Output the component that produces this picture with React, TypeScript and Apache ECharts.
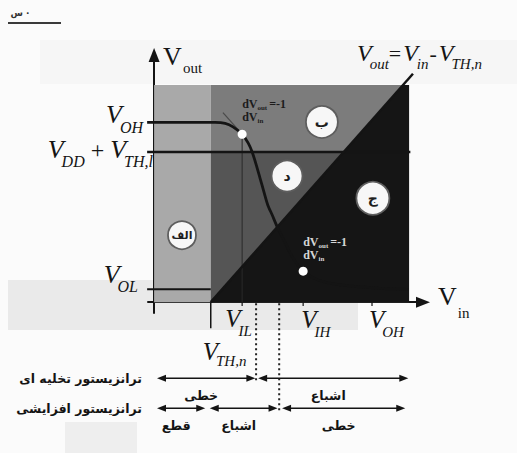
import React, { useEffect, useRef } from 'react';
import * as echarts from 'echarts';

// Voltage levels in schematic units (x = V_in, y = V_out)
const V_TH_N = 1.3;
const V_IL = 2.02;
const V_IH = 3.42;
const V_OH_IN = 5.0;
const V_OH = 3.65;
const V_DD_TH = 3.05;
const V_OL = 0.26;
const BOX_RIGHT = 5.85;
const BOX_TOP = 4.41;
const DIAG_END = 4.64;

// Transfer characteristic V_out(V_in)
const vtcIn = [-0.16, 1.4, 1.63, 1.81, 2.02, 2.16, 2.25, 2.34, 2.43, 2.52, 2.61, 2.71, 2.82, 3.0, 3.19, 3.42, 3.76, 4.27, 5.18, 5.83];
const vtcOut = [3.65, 3.65, 3.63, 3.56, 3.41, 3.23, 3.05, 2.8, 2.52, 2.24, 1.97, 1.77, 1.54, 1.22, 0.89, 0.63, 0.45, 0.35, 0.28, 0.26];

// Unity-gain points (dVout/dVin = -1)
const unityIn = [V_IL, V_IH];
const unityOut = [3.41, 0.63];

// Region markers
const regionNames = ['الف', 'ب', 'د', 'ج'];
const regionX = [0.64, 3.85, 3.05, 5.02];
const regionY = [1.36, 3.66, 2.56, 2.11];

// Operating modes of the two transistors along V_in (arrow tip to arrow tip)
const depletionLabel = 'ترانزیستور تخلیه ای';
const depletionFrom = [0.07, 2.39];
const depletionTo = [2.32, 5.83];
const depletionModes = ['خطی', 'اشباع'];
const enhancementLabel = 'ترانزیستور افزایشی';
const enhancementFrom = [0.07, 1.28, 2.94];
const enhancementTo = [1.17, 2.83, 5.76];
const enhancementModes = ['قطع', 'اشباع', 'خطی'];
const ROW_DEP = -1.545;
const ROW_ENH = -2.155;
const BOUNDARY_DEP = 2.34;
const BOUNDARY_ENH = 2.87;

const SERIF = 'Liberation Serif, serif';
const ARABIC = 'DejaVu Sans, sans-serif';
const INK = '#141414';
const HEAD = 0.1; // half an arrowhead, in V_in units

type Pt = number[];

const canvasCtx = document.createElement('canvas').getContext('2d') as CanvasRenderingContext2D;
function textWidth(t: string, font: string) {
  canvasCtx.font = font;
  return canvasCtx.measureText(t).width;
}

type Piece = { t: string; size: number; italic?: boolean; bold?: boolean; sub?: number; dx?: number };

function pieceFont(p: Piece) {
  return `${p.italic ? 'italic' : 'normal'} ${p.bold ? 'bold' : 'normal'} ${p.size}px "Liberation Serif"`;
}

function formulaWidth(pieces: Piece[]) {
  return pieces.reduce((w, p) => w + (p.dx ?? 0) + textWidth(p.t, pieceFont(p)), 0);
}

function formula(left: number, base: number, pieces: Piece[], color = INK) {
  let x = left;
  const els: any[] = [];
  for (const p of pieces) {
    x += p.dx ?? 0;
    const b = base + (p.sub ?? 0);
    els.push({
      type: 'text',
      x,
      y: b - 0.34 * p.size,
      z: 100,
      silent: true,
      style: {
        text: p.t,
        fontSize: p.size,
        fontFamily: SERIF,
        fontStyle: p.italic ? 'italic' : 'normal',
        fontWeight: p.bold ? 'bold' : 'normal',
        fill: color,
        align: 'left',
        verticalAlign: 'middle',
      },
    });
    x += textWidth(p.t, pieceFont(p));
  }
  return els;
}

function formulaRight(right: number, base: number, pieces: Piece[], color = INK) {
  return formula(right - formulaWidth(pieces), base, pieces, color);
}

const vSub = (sub: string, size = 26, subSize = 16, drop = 9): Piece[] => [
  { t: 'V', size, italic: true },
  { t: sub, size: subSize, italic: true, sub: drop, dx: -2 },
];

function seg(data: Pt[], lineStyle: any, z = 3, smooth: number | boolean = false) {
  return {
    type: 'line',
    data,
    symbol: 'none',
    clip: false,
    silent: true,
    smooth,
    z,
    lineStyle,
  };
}

// double-headed arrows for one transistor's mode bar
function arrowRow(from: number[], to: number[], row: number) {
  return from.map((a, i) => ({
    type: 'line',
    clip: false,
    silent: true,
    z: 4,
    symbol: 'triangle',
    symbolSize: [7, 9],
    showSymbol: true,
    showAllSymbol: true,
    lineStyle: { color: INK, width: 1.5 },
    itemStyle: { color: INK, opacity: 1 },
    data: [
      { value: [a + HEAD, row], symbolRotate: 90 },
      { value: [to[i] - HEAD, row], symbolRotate: -90 },
    ],
  }));
}

function buildOption() {
  const polygons: Pt[][] = [
    [[0, 0], [V_TH_N, 0], [V_TH_N, BOX_TOP], [0, BOX_TOP]],
    [[V_TH_N, V_DD_TH], [BOX_RIGHT, V_DD_TH], [BOX_RIGHT, BOX_TOP], [V_TH_N, BOX_TOP]],
    [[V_TH_N, 0], [BOX_RIGHT, 0], [BOX_RIGHT, V_DD_TH], [V_TH_N, V_DD_TH]],
    [[V_TH_N, 0], [V_TH_N + BOX_TOP, BOX_TOP], [BOX_RIGHT, BOX_TOP], [BOX_RIGHT, 0]],
  ];
  const fills = ['#a9a9a9', '#7c7c7c', '#555555', '#151515'];
  const circleSizes = [28, 32, 31, 33];
  const circleFonts = [11, 14, 14, 14];

  return {
    animation: false,
    backgroundColor: '#fbfbfb',
    grid: { left: 148, top: 55, width: 275, height: 258, containLabel: false, outerBoundsMode: 'none' },
    xAxis: {
      type: 'value',
      min: -0.14,
      max: 6.17,
      axisLine: {
        onZero: true,
        symbol: ['none', 'triangle'],
        symbolSize: [11, 14],
        lineStyle: { color: INK, width: 2 },
      },
      axisTick: { show: false },
      axisLabel: { show: false },
      splitLine: { show: false },
    },
    yAxis: {
      type: 'value',
      min: -0.22,
      max: 5.02,
      axisLine: {
        onZero: true,
        symbol: ['none', 'triangle'],
        symbolSize: [11, 14],
        lineStyle: { color: INK, width: 2 },
      },
      axisTick: { show: false },
      axisLabel: { show: false },
      splitLine: { show: false },
    },
    series: [
      {
        type: 'custom',
        silent: true,
        clip: false,
        z: 1,
        data: polygons.map((p, i) => [p[0][0], p[0][1], i]),
        encode: { x: 0, y: 1 },
        renderItem: (params: any, api: any) => {
          const poly = polygons[params.dataIndex];
          return {
            type: 'polygon',
            shape: { points: poly.map((p) => api.coord(p)) },
            style: { fill: fills[params.dataIndex] },
          };
        },
      },
      // V_IL guide and tangent at the first unity-gain point
      seg([[V_IL, unityOut[0]], [V_IL, 0]], { color: '#2a2a2a', width: 1 }, 2),
      seg([[1.58, 3.85], [2.12, 3.31]], { color: '#4a4a4a', width: 1.2 }, 2),
      // reference levels
      seg([[-0.16, V_DD_TH], [BOX_RIGHT + 0.03, V_DD_TH]], { color: INK, width: 2.6 }),
      seg([[-0.16, V_OL], [V_TH_N, V_OL]], { color: INK, width: 2 }),
      // V_out = V_in - V_TH,n
      seg([[V_TH_N, 0], [V_TH_N + DIAG_END, DIAG_END]], { color: INK, width: 2.5 }),
      // transfer curve
      seg(vtcIn.map((x, i) => [x, vtcOut[i]]), { color: INK, width: 2.8 }, 4, 0.25),
      // tick marks below the V_in axis
      seg([[V_TH_N, 0], [V_TH_N, -0.53]], { color: INK, width: 1.5 }),
      seg([[V_IL, 0], [V_IL, -0.08]], { color: INK, width: 1.2 }),
      seg([[V_IH, 0], [V_IH, -0.08]], { color: INK, width: 1.2 }),
      seg([[V_OH_IN, 0], [V_OH_IN, -0.08]], { color: INK, width: 1.2 }),
      // region boundaries carried down to the mode bars
      seg([[BOUNDARY_DEP, -0.02], [BOUNDARY_DEP, ROW_DEP - 0.04]], { color: '#222', width: 2, type: [2, 3] }),
      seg([[BOUNDARY_ENH, -0.02], [BOUNDARY_ENH, ROW_ENH - 0.04]], { color: '#222', width: 2, type: [2, 3] }),
      ...arrowRow(depletionFrom, depletionTo, ROW_DEP),
      ...arrowRow(enhancementFrom, enhancementTo, ROW_ENH),
      {
        type: 'scatter',
        silent: true,
        z: 6,
        symbol: 'circle',
        data: unityIn.map((x, i) => [x, unityOut[i]]),
        symbolSize: 9,
        itemStyle: { color: '#ffffff', opacity: 1 },
      },
      {
        type: 'scatter',
        silent: true,
        z: 6,
        symbol: 'circle',
        data: regionX.map((x, i) => ({
          value: [x, regionY[i]],
          name: regionNames[i],
          symbolSize: circleSizes[i],
          label: { fontSize: circleFonts[i] },
        })),
        itemStyle: { color: '#f7f7f7', borderColor: '#5e5e5e', borderWidth: 1.8, opacity: 1 },
        label: {
          show: true,
          position: 'inside',
          formatter: '{b}',
          color: '#1e1e1e',
          fontFamily: ARABIC,
          fontWeight: 'bold',
          fontSize: 14,
        },
      },
    ],
  };
}

function buildGraphics(px: (p: Pt) => number[]) {
  const els: any[] = [];
  // paper tone of the printed page
  els.push(
    { type: 'rect', z: -10, silent: true, shape: { x: 40, y: 40, width: 477, height: 44 }, style: { fill: '#f6f6f6' } },
    { type: 'rect', z: -10, silent: true, shape: { x: 8, y: 280, width: 350, height: 50 }, style: { fill: '#eaeaea' } },
    { type: 'rect', z: -10, silent: true, shape: { x: 65, y: 422, width: 72, height: 31 }, style: { fill: '#eeeeee' } },
    { type: 'line', z: 5, silent: true, shape: { x1: 8, y1: 23, x2: 61, y2: 23 }, style: { stroke: '#3a3a3a', lineWidth: 2 } },
    { type: 'text', z: 5, silent: true, x: 20, y: 13, style: { text: 'س ·', fontFamily: ARABIC, fontWeight: 'bold', fontSize: 9, fill: '#333', align: 'center', verticalAlign: 'middle' } }
  );

  const origin = px([0, 0]);
  const yTop = px([0, 5.02]);
  const xEnd = px([6.17, 0]);

  // axis titles
  els.push(...formula(yTop[0] + 9, yTop[1] + 10, [
    { t: 'V', size: 26 },
    { t: 'out', size: 15, sub: 8, dx: 1 },
  ]));
  els.push(...formula(xEnd[0] + 15, xEnd[1] + 3, [
    { t: 'V', size: 26 },
    { t: 'in', size: 15, sub: 13, dx: 1 },
  ]));

  // levels on the V_out axis
  const left = px([-0.14, 0])[0];
  els.push(...formulaRight(left - 5, px([0, V_OH])[1] + 1, vSub('OH')));
  els.push(...formulaRight(left + 5, px([0, V_DD_TH])[1] + 6, [
    ...vSub('DD'),
    { t: ' + ', size: 24 },
    ...vSub('TH,l'),
  ]));
  els.push(...formulaRight(left - 10, px([0, V_OL])[1] - 6, vSub('OL')));

  // levels on the V_in axis
  els.push(...formula(px([V_IL, 0])[0] - 17, origin[1] + 25, vSub('IL', 25, 15, 9)));
  els.push(...formula(px([V_IH, 0])[0] - 2, origin[1] + 26, vSub('IH', 25, 15, 9)));
  els.push(...formula(px([V_OH_IN, 0])[0] - 3, origin[1] + 26, vSub('OH', 25, 15, 9)));
  els.push(...formula(px([V_TH_N, 0])[0] - 8, origin[1] + 58, vSub('TH,n', 25, 15, 6)));

  // line equation
  const top = px([V_TH_N + DIAG_END, DIAG_END]);
  els.push(...formula(top[0] - 56, top[1] - 13, [
    { t: 'V', size: 24, italic: true },
    { t: 'out', size: 15, italic: true, sub: 8, dx: -2 },
    { t: '=', size: 22, dx: 0 },
    { t: 'V', size: 24, italic: true, dx: 2 },
    { t: 'in', size: 15, italic: true, sub: 8, dx: -1 },
    { t: '-', size: 22, dx: 1 },
    { t: 'V', size: 24, italic: true, dx: 2 },
    { t: 'TH,n', size: 15, italic: true, sub: 8, dx: -2 },
  ]));

  // unity-gain annotations
  const d1 = px([unityIn[0], unityOut[0]]);
  const d2 = px([unityIn[1], unityOut[1]]);
  const slopeTop: Piece[] = [
    { t: 'dV', size: 12, bold: true },
    { t: 'out', size: 7, bold: true, sub: 2 },
    { t: '=-1', size: 12, bold: true, dx: 2 },
  ];
  const slopeBottom: Piece[] = [
    { t: 'dV', size: 12, bold: true },
    { t: 'in', size: 7, bold: true, sub: 2 },
  ];
  els.push(...formula(d1[0], d1[1] - 26, slopeTop, '#1c1c1c'));
  els.push(...formula(d1[0], d1[1] - 13, slopeBottom, '#1c1c1c'));
  els.push(...formula(d2[0], d2[1] - 25, slopeTop, '#d6d6d6'));
  els.push(...formula(d2[0], d2[1] - 12, slopeBottom, '#d6d6d6'));

  // transistor names beside the mode bars, mode names under each span
  const rowDep = px([0, ROW_DEP])[1];
  const rowEnh = px([0, ROW_ENH])[1];
  const nameStyle = { fontFamily: ARABIC, fontWeight: 'bold', fontSize: 12.5, fill: INK, align: 'right', verticalAlign: 'middle' };
  els.push(
    { type: 'text', z: 100, silent: true, x: left - 6, y: rowDep, style: { ...nameStyle, text: depletionLabel } },
    { type: 'text', z: 100, silent: true, x: left - 6, y: rowEnh, style: { ...nameStyle, text: enhancementLabel } }
  );
  const modeStyle = { fontFamily: ARABIC, fontWeight: 'bold', fontSize: 12.5, fill: INK, align: 'center', verticalAlign: 'middle' };
  const modeLabels = (from: number[], to: number[], names: string[], row: number) =>
    from.map((a, i) => {
      const p = px([(a + to[i]) / 2, row]);
      return { type: 'text', z: 100, silent: true, x: p[0] - 5, y: p[1] + 17, style: { ...modeStyle, text: names[i] } };
    });
  els.push(...modeLabels(depletionFrom, depletionTo, depletionModes, ROW_DEP));
  els.push(...modeLabels(enhancementFrom, enhancementTo, enhancementModes, ROW_ENH));
  return els;
}

export default function App() {
  const ref = useRef<HTMLDivElement>(null);
  useEffect(() => {
    const el = ref.current as HTMLDivElement;
    const chart = echarts.init(el, null, { renderer: 'svg' });
    chart.setOption(buildOption() as any);
    const px = (p: Pt) => chart.convertToPixel({ gridIndex: 0 }, p) as number[];
    chart.setOption({ graphic: buildGraphics(px) } as any);
    return () => chart.dispose();
  }, []);
  return <div ref={ref} style={{ position: 'absolute', left: 0, top: 0, width: 517, height: 453 }} />;
}
